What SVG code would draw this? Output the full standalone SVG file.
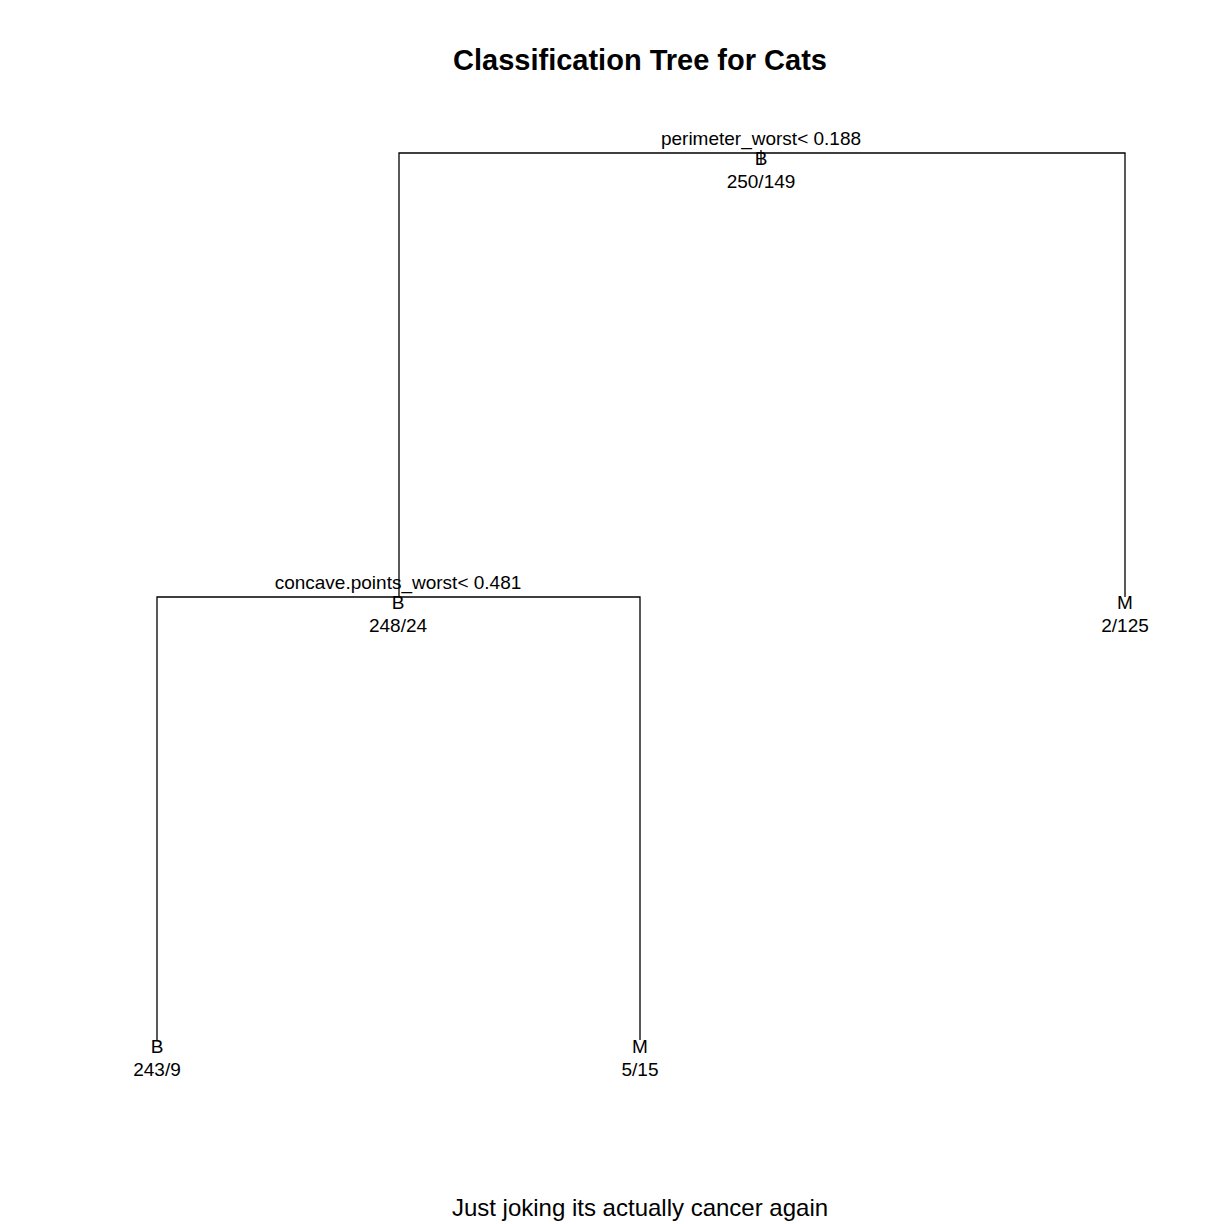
<svg xmlns="http://www.w3.org/2000/svg" width="1224" height="1224" viewBox="0 0 1224 1224">
<style>
text{font-family:"Liberation Sans",Arial,sans-serif;fill:#000;text-anchor:middle}
.lab{font-size:19px}
.title{font-size:29px;font-weight:bold}
.sub{font-size:24px}
.edge{stroke:#000;stroke-width:1.3;fill:none}
</style>
<rect width="1224" height="1224" fill="#fff"/>
<text class="title" x="640" y="70">Classification Tree for Cats</text>
<g id="connectors">
<path class="edge" d="M399 597 V153 H1125 V597"/>
<path class="edge" d="M761 150 V165"/>
<path class="edge" d="M157 1040 V597 H640 V1040"/>
</g>
<g id="node-root">
<text class="lab" x="761" y="145">perimeter_worst&lt; 0.188</text>
<text class="lab" x="761" y="165">B</text>
<text class="lab" x="761" y="188">250/149</text>
</g>
<g id="node-left">
<text class="lab" x="398" y="589">concave.points_worst&lt; 0.481</text>
<text class="lab" x="398" y="609">B</text>
<text class="lab" x="398" y="632">248/24</text>
</g>
<g id="node-right">
<text class="lab" x="1125" y="609">M</text>
<text class="lab" x="1125" y="632">2/125</text>
</g>
<g id="node-ll">
<text class="lab" x="157" y="1053">B</text>
<text class="lab" x="157" y="1076">243/9</text>
</g>
<g id="node-lr">
<text class="lab" x="640" y="1053">M</text>
<text class="lab" x="640" y="1076">5/15</text>
</g>
<text class="sub" x="640" y="1216">Just joking its actually cancer again</text>
</svg>
